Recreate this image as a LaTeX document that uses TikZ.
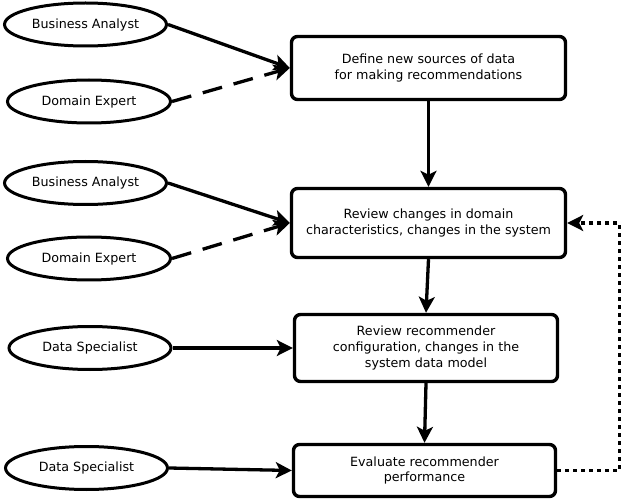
\documentclass[tikz,border=0pt]{standalone}
\usepackage{fontspec}
\setmainfont{DejaVu Sans}
\usetikzlibrary{shapes.geometric,arrows.meta}
\begin{document}
\begin{tikzpicture}[x=1pt,y=-1pt,
  every node/.style={font=\fontsize{12.7}{15.8}\selectfont, align=center, inner sep=0pt},
  actor/.style={ellipse, draw, line width=3pt, minimum width=#1, minimum height=43pt},
  actor/.default=162pt,
  taskbox/.style={draw, line width=3.4pt, rounded corners=6pt},
  arr/.style={line width=3.3pt, -{Stealth[length=16pt,width=16pt,inset=4pt]}},
  dasharr/.style={arr, dash pattern=on 20pt off 12pt},
  dotarr/.style={arr, dash pattern=on 4pt off 4pt}
]
\useasboundingbox (0,0) rectangle (622,500);

\node[actor] (ba1) at (85.5,24.5) {Business Analyst};
\node[actor=163pt] (de1) at (89,101.5) {Domain Expert};
\node[actor] (ba2) at (85.5,183) {Business Analyst};
\node[actor=163pt] (de2) at (89,258.5) {Domain Expert};
\node[actor] (ds1) at (90,348) {Data Specialist};
\node[actor] (ds2) at (86.5,468) {Data Specialist};

\node[taskbox, minimum width=274pt, minimum height=63pt] (b1) at (428.5,68) {Define new sources of data\\for making recommendations};
\node[taskbox, minimum width=274pt, minimum height=69pt] (b2) at (428.5,223) {Review changes in domain\\characteristics, changes in the system};
\node[taskbox, minimum width=263pt, minimum height=67pt] (b3) at (426,348) {Review recommender\\configuration, changes in the\\system data model};
\node[taskbox, minimum width=262pt, minimum height=52pt] (b4) at (424.5,470.5) {Evaluate recommender\\performance};

\coordinate (fb) at (619.5,0);

\draw[arr] (ba1.east) -- (b1.west);
\draw[dasharr] (de1.east) -- (b1.west);
\draw[arr] (ba2.east) -- (b2.west);
\draw[dasharr] (de2.east) -- (b2.west);
\draw[arr] (ds1.east) -- (b3.west);
\draw[arr] (ds2.east) -- (b4.west);

\draw[arr] (b1.south) -- (b2.north);
\draw[arr] (b2.south) -- (b3.north);
\draw[arr] (b3.south) -- (b4.north);

\draw[dotarr] (b4.east) -| (fb |- b2.east) -- (b2.east);
\end{tikzpicture}
\end{document}
